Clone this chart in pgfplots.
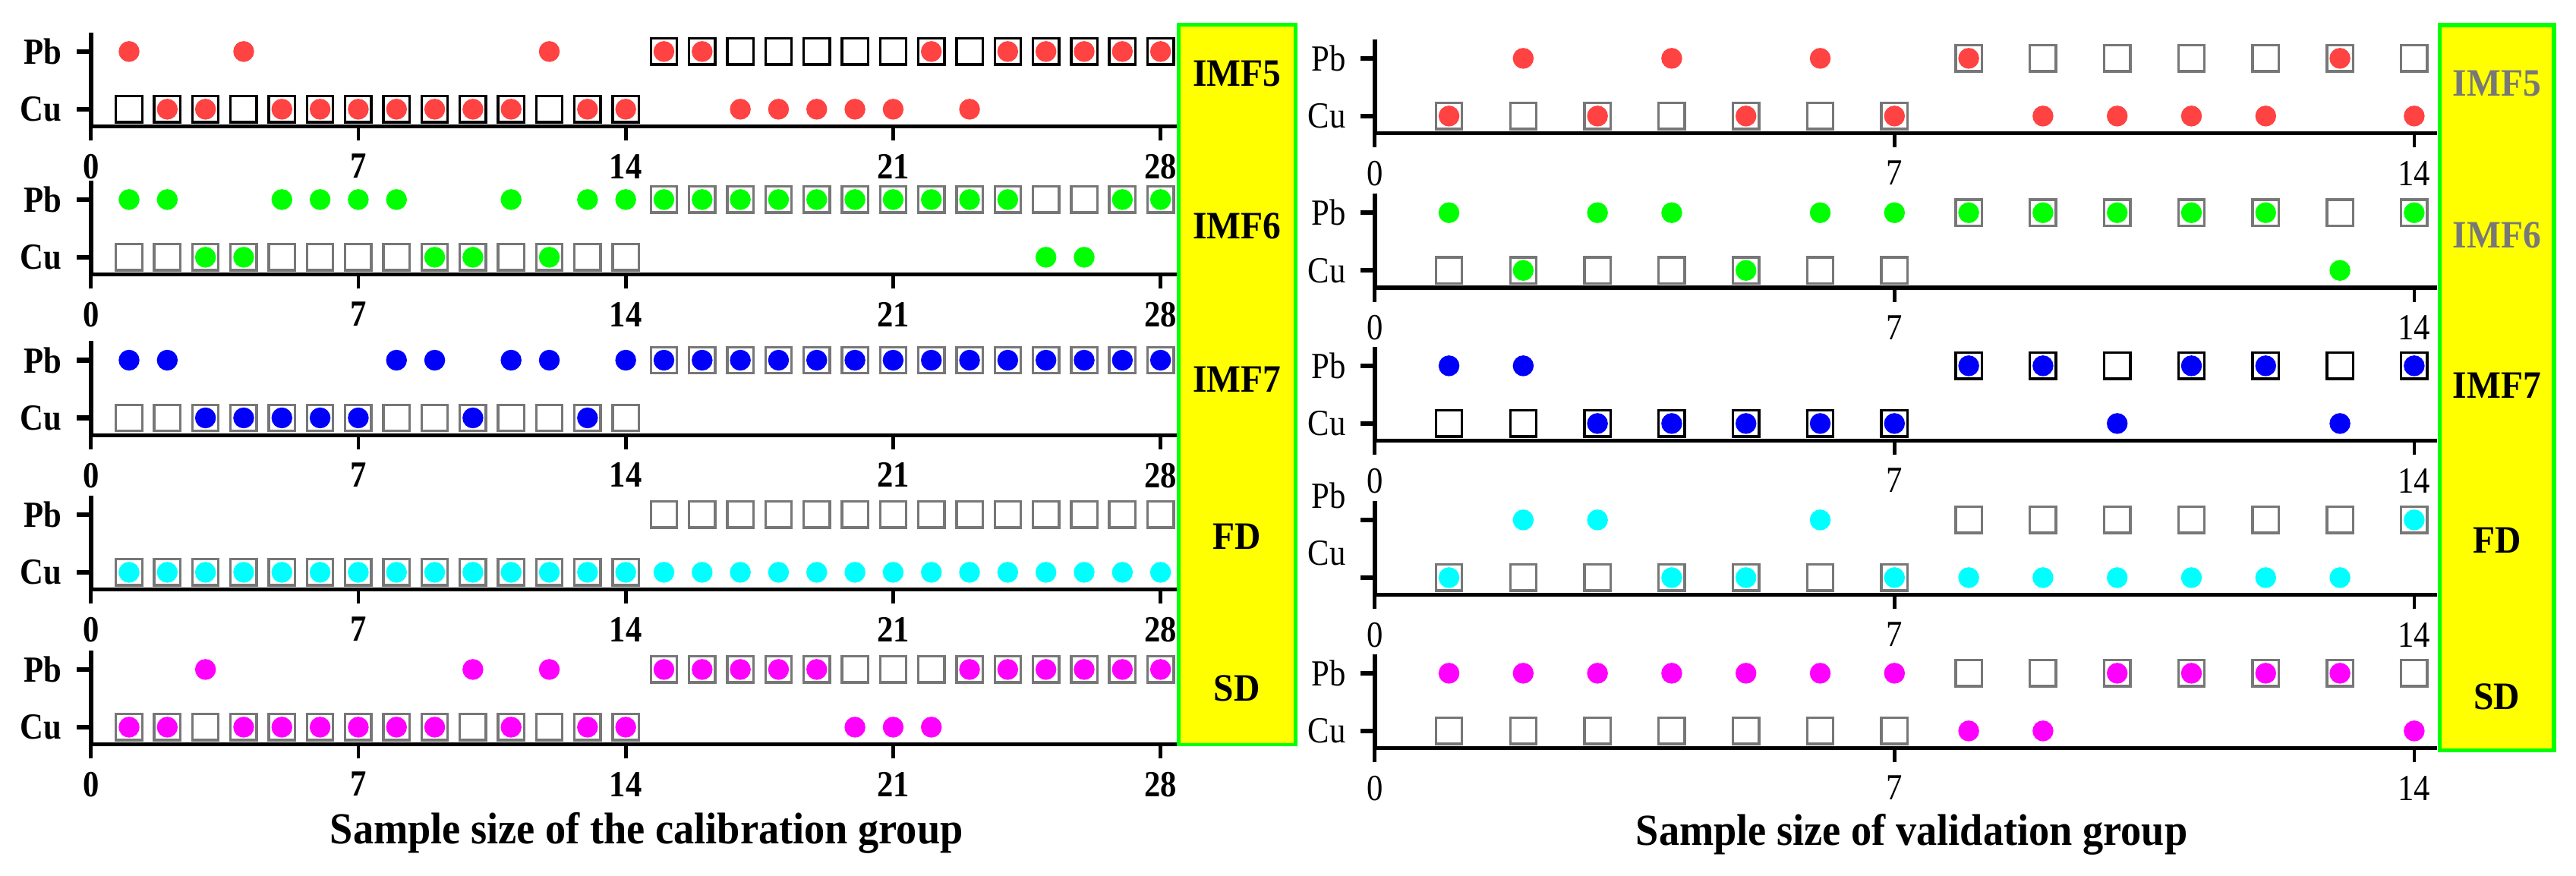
\documentclass[border=0pt]{standalone}
\usepackage{pgfplots}
\pgfplotsset{compat=1.18}
\usepackage{fontspec}
\setmainfont{Liberation Serif}
\newfontfamily\condfont{Liberation Serif}[FakeStretch=0.88]
\newfontfamily\condlab{Liberation Serif}[FakeStretch=0.93]
\definecolor{cred}{RGB}{255,66,66}
\definecolor{cgreen}{RGB}{0,255,0}
\definecolor{cblue}{RGB}{0,0,250}
\definecolor{ccyan}{RGB}{0,255,255}
\definecolor{cmag}{RGB}{255,0,255}
\definecolor{cgray}{RGB}{119,119,119}
\definecolor{cyel}{RGB}{255,255,0}
\definecolor{cgb}{RGB}{0,255,0}
\definecolor{ctxtgray}{RGB}{120,120,120}
\pgfplotsset{
  rowbase/.style={
    scale only axis, height=28.63pt, ymin=-0.30, ymax=1.33,
    axis lines*=left, clip=false,
    ytick={0,1}, yticklabels={Cu,Pb},
    tick align=outside, major tick length=4.3pt,
    x axis line style={line width=1.23pt},
    y axis line style={line width=1.4pt},
    xtick style={line width=1.1pt, black},
    ytick style={line width=1.46pt, black},
    /pgf/number format/assume math mode=true,
    xticklabel style={yshift=-0.6pt},
    yticklabel style={xshift=-1pt},
    anchor=south west,
  },
  rowL/.style={rowbase, width=330.6pt, xmin=0, xmax=28.43, xtick={0,7,14,21,28},
    ticklabel style={font=\condfont\fontsize{11.2}{12}\selectfont\bfseries}},
  rowR/.style={rowbase, width=323.4pt, xmin=0, xmax=14.31, xtick={0,7,14},
    ticklabel style={font=\condfont\fontsize{11.2}{12}\selectfont}},
  sq/.style={only marks, mark=square, mark size=3.97pt, color=#1,
    mark options={line width=0.77pt, solid, fill=none}},
  dt/.style={only marks, mark=*, mark size=2.97pt, color=#1},
}
\begin{document}
\begin{tikzpicture}
\useasboundingbox (0pt,0pt) rectangle (784.1pt,-266.5pt);
% yellow boxes
\draw[fill=cyel, draw=cgb, line width=1.1pt] (358.8pt,-7.5pt) rectangle (394.3pt,-226.7pt);
\draw[fill=cyel, draw=cgb, line width=1.3pt] (742.6pt,-7.6pt) rectangle (777.4pt,-228.4pt);
\begin{scope}[font=\condlab\fontsize{11.8}{13}\selectfont\bfseries]
\node at (376.5pt,-22.5pt) {IMF5};
\node at (376.5pt,-68.8pt) {IMF6};
\node at (376.5pt,-115.6pt) {IMF7};
\node at (376.5pt,-163.3pt) {FD};
\node at (376.5pt,-209.6pt) {SD};
\node[text=ctxtgray] at (760.0pt,-25.4pt) {IMF5};
\node[text=ctxtgray] at (760.0pt,-71.6pt) {IMF6};
\node at (760.0pt,-117.4pt) {IMF7};
\node at (760.0pt,-164.5pt) {FD};
\node at (760.0pt,-212.2pt) {SD};
\end{scope}
\node[font=\condlab\fontsize{13.5}{15}\selectfont\bfseries, anchor=base] at (196.8pt,-256.9pt) {Sample size of the calibration group};
\node[font=\condlab\fontsize{13.5}{15}\selectfont\bfseries, anchor=base] at (581.9pt,-257.3pt) {Sample size of validation group};

% ---------------- Left panel (calibration) ----------------
% Row 1 IMF5
\begin{axis}[rowL, at={(27.66pt,-38.52pt)}]
\addplot[sq=black] coordinates {(1,0)(2,0)(3,0)(4,0)(5,0)(6,0)(7,0)(8,0)(9,0)(10,0)(11,0)(12,0)(13,0)(14,0)(15,1)(16,1)(17,1)(18,1)(19,1)(20,1)(21,1)(22,1)(23,1)(24,1)(25,1)(26,1)(27,1)(28,1)};
\addplot[dt=cred] coordinates {(1,1)(4,1)(12,1)(15,1)(16,1)(22,1)(24,1)(25,1)(26,1)(27,1)(28,1)};
\addplot[dt=cred] coordinates {(2,0)(3,0)(5,0)(6,0)(7,0)(8,0)(9,0)(10,0)(11,0)(13,0)(14,0)(17,0)(18,0)(19,0)(20,0)(21,0)(23,0)};
\end{axis}
% Row 2 IMF6
\begin{axis}[rowL, at={(27.66pt,-83.59pt)}]
\addplot[sq=cgray] coordinates {(1,0)(2,0)(3,0)(4,0)(5,0)(6,0)(7,0)(8,0)(9,0)(10,0)(11,0)(12,0)(13,0)(14,0)(15,1)(16,1)(17,1)(18,1)(19,1)(20,1)(21,1)(22,1)(23,1)(24,1)(25,1)(26,1)(27,1)(28,1)};
\addplot[dt=cgreen] coordinates {(1,1)(2,1)(5,1)(6,1)(7,1)(8,1)(11,1)(13,1)(14,1)(15,1)(16,1)(17,1)(18,1)(19,1)(20,1)(21,1)(22,1)(23,1)(24,1)(27,1)(28,1)};
\addplot[dt=cgreen] coordinates {(3,0)(4,0)(9,0)(10,0)(12,0)(25,0)(26,0)};
\end{axis}
% Row 3 IMF7
\begin{axis}[rowL, at={(27.66pt,-132.49pt)}]
\addplot[sq=cgray] coordinates {(1,0)(2,0)(3,0)(4,0)(5,0)(6,0)(7,0)(8,0)(9,0)(10,0)(11,0)(12,0)(13,0)(14,0)(15,1)(16,1)(17,1)(18,1)(19,1)(20,1)(21,1)(22,1)(23,1)(24,1)(25,1)(26,1)(27,1)(28,1)};
\addplot[dt=cblue] coordinates {(1,1)(2,1)(8,1)(9,1)(11,1)(12,1)(14,1)(15,1)(16,1)(17,1)(18,1)(19,1)(20,1)(21,1)(22,1)(23,1)(24,1)(25,1)(26,1)(27,1)(28,1)};
\addplot[dt=cblue] coordinates {(3,0)(4,0)(5,0)(6,0)(7,0)(10,0)(13,0)};
\end{axis}
% Row 4 FD
\begin{axis}[rowL, at={(27.66pt,-179.50pt)}]
\addplot[sq=cgray] coordinates {(1,0)(2,0)(3,0)(4,0)(5,0)(6,0)(7,0)(8,0)(9,0)(10,0)(11,0)(12,0)(13,0)(14,0)(15,1)(16,1)(17,1)(18,1)(19,1)(20,1)(21,1)(22,1)(23,1)(24,1)(25,1)(26,1)(27,1)(28,1)};
\addplot[dt=ccyan] coordinates {(1,0)(2,0)(3,0)(4,0)(5,0)(6,0)(7,0)(8,0)(9,0)(10,0)(11,0)(12,0)(13,0)(14,0)(15,0)(16,0)(17,0)(18,0)(19,0)(20,0)(21,0)(22,0)(23,0)(24,0)(25,0)(26,0)(27,0)(28,0)};
\end{axis}
% Row 5 SD
\begin{axis}[rowL, at={(27.66pt,-226.64pt)}]
\addplot[sq=cgray] coordinates {(1,0)(2,0)(3,0)(4,0)(5,0)(6,0)(7,0)(8,0)(9,0)(10,0)(11,0)(12,0)(13,0)(14,0)(15,1)(16,1)(17,1)(18,1)(19,1)(20,1)(21,1)(22,1)(23,1)(24,1)(25,1)(26,1)(27,1)(28,1)};
\addplot[dt=cmag] coordinates {(3,1)(10,1)(12,1)(15,1)(16,1)(17,1)(18,1)(19,1)(23,1)(24,1)(25,1)(26,1)(27,1)(28,1)};
\addplot[dt=cmag] coordinates {(1,0)(2,0)(4,0)(5,0)(6,0)(7,0)(8,0)(9,0)(11,0)(13,0)(14,0)(20,0)(21,0)(22,0)};
\end{axis}

% ---------------- Right panel (validation) ----------------
% Row 1 IMF5
\begin{axis}[rowR, at={(418.45pt,-40.60pt)}]
\addplot[sq=cgray] coordinates {(1,0)(2,0)(3,0)(4,0)(5,0)(6,0)(7,0)(8,1)(9,1)(10,1)(11,1)(12,1)(13,1)(14,1)};
\addplot[dt=cred] coordinates {(2,1)(4,1)(6,1)(8,1)(13,1)};
\addplot[dt=cred] coordinates {(1,0)(3,0)(5,0)(7,0)(9,0)(10,0)(11,0)(12,0)(14,0)};
\end{axis}
% Row 2 IMF6
\begin{axis}[rowR, at={(418.45pt,-87.59pt)}]
\addplot[sq=cgray] coordinates {(1,0)(2,0)(3,0)(4,0)(5,0)(6,0)(7,0)(8,1)(9,1)(10,1)(11,1)(12,1)(13,1)(14,1)};
\addplot[dt=cgreen] coordinates {(1,1)(3,1)(4,1)(6,1)(7,1)(8,1)(9,1)(10,1)(11,1)(12,1)(14,1)};
\addplot[dt=cgreen] coordinates {(2,0)(5,0)(13,0)};
\end{axis}
% Row 3 IMF7
\begin{axis}[rowR, at={(418.45pt,-134.20pt)}]
\addplot[sq=black] coordinates {(1,0)(2,0)(3,0)(4,0)(5,0)(6,0)(7,0)(8,1)(9,1)(10,1)(11,1)(12,1)(13,1)(14,1)};
\addplot[dt=cblue] coordinates {(1,1)(2,1)(8,1)(9,1)(11,1)(12,1)(14,1)};
\addplot[dt=cblue] coordinates {(3,0)(4,0)(5,0)(6,0)(7,0)(10,0)(13,0)};
\end{axis}
% Row 4 FD
\begin{axis}[rowR, at={(418.45pt,-181.12pt)}, yticklabel style={yshift=7.5pt}]
\addplot[sq=cgray] coordinates {(1,0)(2,0)(3,0)(4,0)(5,0)(6,0)(7,0)(8,1)(9,1)(10,1)(11,1)(12,1)(13,1)(14,1)};
\addplot[dt=ccyan] coordinates {(2,1)(3,1)(6,1)(14,1)};
\addplot[dt=ccyan] coordinates {(1,0)(4,0)(5,0)(7,0)(8,0)(9,0)(10,0)(11,0)(12,0)(13,0)};
\end{axis}
% Row 5 SD
\begin{axis}[rowR, at={(418.45pt,-227.79pt)}]
\addplot[sq=cgray] coordinates {(1,0)(2,0)(3,0)(4,0)(5,0)(6,0)(7,0)(8,1)(9,1)(10,1)(11,1)(12,1)(13,1)(14,1)};
\addplot[dt=cmag] coordinates {(1,1)(2,1)(3,1)(4,1)(5,1)(6,1)(7,1)(10,1)(11,1)(12,1)(13,1)};
\addplot[dt=cmag] coordinates {(8,0)(9,0)(14,0)};
\end{axis}
\end{tikzpicture}
\end{document}
